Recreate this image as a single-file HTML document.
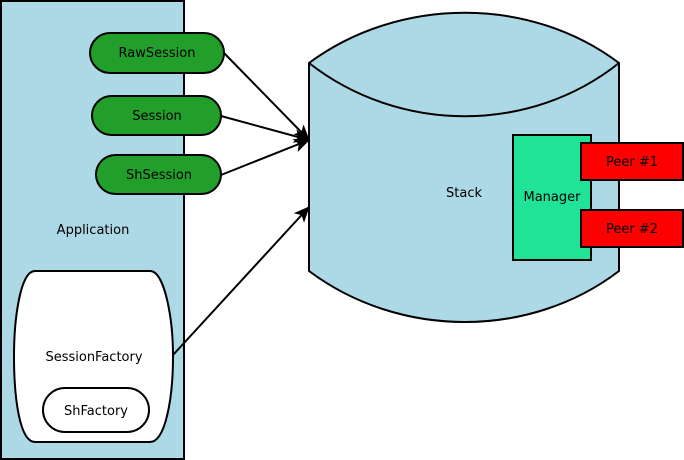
<!DOCTYPE html>
<html><head><style>html,body{margin:0;padding:0;background:#fff}svg{display:block}</style></head>
<body>
<svg width="684" height="460" viewBox="0 0 684 460" xmlns="http://www.w3.org/2000/svg" font-family="DejaVu Sans, Liberation Sans, sans-serif" font-size="13">
<defs><marker id="a" markerWidth="16" markerHeight="14" refX="15" refY="7" orient="auto" markerUnits="userSpaceOnUse"><path d="M0,0 L16,7 L0,14 L4,7 Z" fill="#000"/></marker></defs>
<rect x="1" y="1" width="183" height="458" fill="#add8e6" stroke="#000" stroke-width="2"/>
<text x="93" y="234" text-anchor="middle">Application</text>
<path d="M309,63 C400,-4 530,-4 619,63 L619,271 C530,339 400,339 309,271 Z" fill="#add8e6" stroke="#000" stroke-width="2"/>
<path d="M309,63 C400,134 530,134 619,63" fill="none" stroke="#000" stroke-width="2"/>
<text x="464" y="197" text-anchor="middle">Stack</text>
<rect x="513" y="135" width="78" height="125" fill="#20e398" stroke="#000" stroke-width="2"/>
<text x="552" y="201" text-anchor="middle">Manager</text>
<rect x="581" y="143" width="102" height="37" fill="#f00" stroke="#000" stroke-width="2"/>
<text x="632" y="166" text-anchor="middle">Peer #1</text>
<rect x="581" y="210" width="102" height="37" fill="#f00" stroke="#000" stroke-width="2"/>
<text x="632" y="233" text-anchor="middle">Peer #2</text>
<rect x="90" y="33" width="134" height="40" rx="20" fill="#229e2a" stroke="#000" stroke-width="2"/>
<text x="157" y="57" text-anchor="middle">RawSession</text>
<rect x="92" y="96" width="129" height="39" rx="19.5" fill="#229e2a" stroke="#000" stroke-width="2"/>
<text x="157" y="120" text-anchor="middle">Session</text>
<rect x="96" y="155" width="125" height="39" rx="19.5" fill="#229e2a" stroke="#000" stroke-width="2"/>
<text x="159" y="179" text-anchor="middle">ShSession</text>
<path d="M35,271 L150,271 C165,271 173,320 173,356 C173,400 165,442 150,442 L35,442 C20,442 14,400 14,356 C14,320 20,271 35,271 Z" fill="#fff" stroke="#000" stroke-width="2"/>
<text x="94" y="361" text-anchor="middle">SessionFactory</text>
<rect x="43" y="388" width="106" height="44" rx="22" fill="#fff" stroke="#000" stroke-width="2"/>
<text x="96" y="415" text-anchor="middle">ShFactory</text>
<g stroke="#000" stroke-width="2" fill="none" marker-end="url(#a)">
<line x1="224" y1="53" x2="309" y2="140"/>
<line x1="221" y1="116" x2="309" y2="140"/>
<line x1="221" y1="175" x2="309" y2="140"/>
<line x1="173" y1="355" x2="309" y2="207"/>
</g>
</svg>
</body></html>
